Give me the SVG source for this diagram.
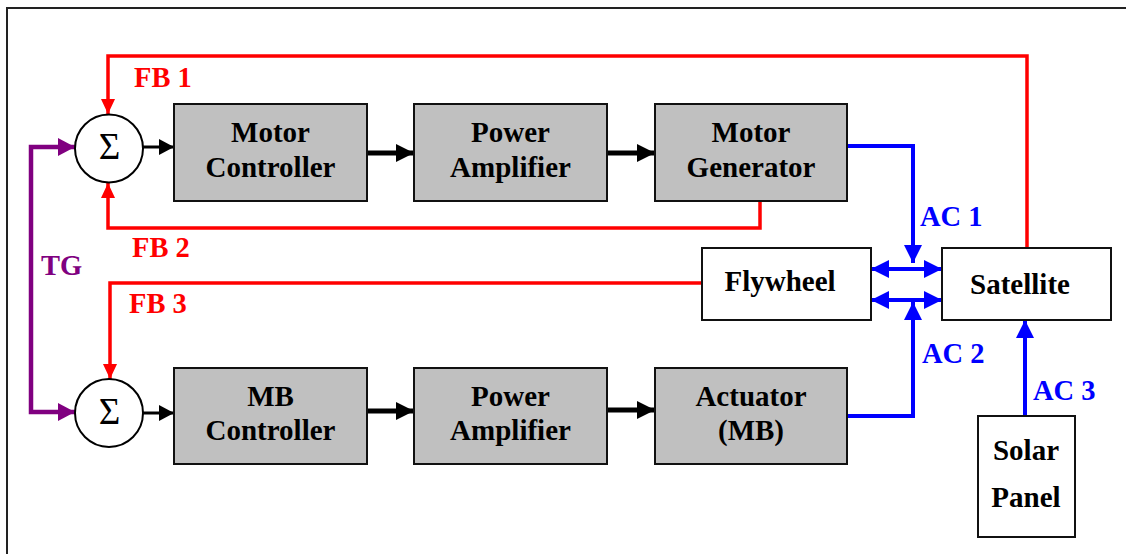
<svg xmlns="http://www.w3.org/2000/svg" width="1126" height="554" viewBox="0 0 1126 554">
<style>
.box{fill:#C0C0C0;stroke:#111;stroke-width:2}
.wbox{fill:#fff;stroke:#111;stroke-width:2}
.sum{fill:#fff;stroke:#000;stroke-width:2}
.t{font-family:"Liberation Serif",serif;font-weight:bold;font-size:29px;fill:#000;text-anchor:middle}
.lbl{font-family:"Liberation Serif",serif;font-weight:bold;font-size:28.5px}
.sig{font-family:"Liberation Serif",serif;font-size:37px;fill:#000;text-anchor:middle}
.red{fill:none;stroke:#FF0000;stroke-width:3.5}
.blue{fill:none;stroke:#0000FF;stroke-width:4}
.pur{fill:none;stroke:#800080;stroke-width:4.5}
.blk{fill:none;stroke:#000;stroke-width:3}
.blkT{fill:none;stroke:#000;stroke-width:5}
</style>
<defs>
<marker id="aR" markerUnits="userSpaceOnUse" markerWidth="16" markerHeight="14" refX="15" refY="7" orient="auto"><path d="M0,0 L15,7 L0,14 z" fill="#FF0000"/></marker>
<marker id="aB" markerUnits="userSpaceOnUse" markerWidth="19" markerHeight="18" refX="18" refY="9" orient="auto-start-reverse"><path d="M0,0 L18,9 L0,18 z" fill="#0000FF"/></marker>
<marker id="aP" markerUnits="userSpaceOnUse" markerWidth="18" markerHeight="18" refX="17" refY="9" orient="auto-start-reverse"><path d="M0,0 L17,9 L0,18 z" fill="#800080"/></marker>
<marker id="aK" markerUnits="userSpaceOnUse" markerWidth="16" markerHeight="16" refX="15" refY="8" orient="auto"><path d="M0,0 L15,8 L0,16 z" fill="#000"/></marker>
<marker id="aKT" markerUnits="userSpaceOnUse" markerWidth="19" markerHeight="18" refX="18" refY="9" orient="auto"><path d="M0,0 L18,9 L0,18 z" fill="#000"/></marker>
</defs>
<rect width="1126" height="554" fill="#fff"/>
<rect x="7" y="8" width="1140" height="560" fill="none" stroke="#222" stroke-width="2"/>

<g id="connectors">
<polyline class="red" points="1027,248 1027,56 108,56 108,114" marker-end="url(#aR)"/>
<polyline class="red" points="760,201 760,228 108,228 108,183" marker-end="url(#aR)"/>
<polyline class="red" points="702,283 110,283 110,379" marker-end="url(#aR)"/>
<path class="pur" d="M75,147 L31,147 L31,412 L75,412" marker-start="url(#aP)" marker-end="url(#aP)"/>
<line class="blk" x1="143" y1="147" x2="174" y2="147" marker-end="url(#aK)"/>
<line class="blkT" x1="367" y1="153" x2="414" y2="153" marker-end="url(#aKT)"/>
<line class="blkT" x1="607" y1="153" x2="655" y2="153" marker-end="url(#aKT)"/>
<line class="blk" x1="143" y1="413" x2="174" y2="413" marker-end="url(#aK)"/>
<line class="blkT" x1="367" y1="411" x2="414" y2="411" marker-end="url(#aKT)"/>
<line class="blkT" x1="607" y1="410" x2="655" y2="410" marker-end="url(#aKT)"/>
<polyline class="blue" points="847,146 913,146 913,263" marker-end="url(#aB)"/>
<line class="blue" x1="871" y1="269" x2="942" y2="269" marker-start="url(#aB)" marker-end="url(#aB)"/>
<line class="blue" x1="871" y1="300" x2="942" y2="300" marker-start="url(#aB)" marker-end="url(#aB)"/>
<polyline class="blue" points="847,416 913,416 913,302" marker-end="url(#aB)"/>
<line class="blue" x1="1025" y1="416" x2="1025" y2="320" marker-end="url(#aB)"/>
<text class="lbl" x="134" y="87" fill="#FF0000">FB 1</text>
<text class="lbl" x="132" y="257" fill="#FF0000">FB 2</text>
<text class="lbl" x="129" y="313" fill="#FF0000">FB 3</text>
<text class="lbl" x="41" y="275" fill="#800080">TG</text>
<text class="lbl" x="920" y="226" fill="#0000FF">AC 1</text>
<text class="lbl" x="922" y="363" fill="#0000FF">AC 2</text>
<text class="lbl" x="1033" y="400" fill="#0000FF">AC 3</text>
</g>

<g id="sum1"><circle class="sum" cx="109" cy="148.5" r="34"/><text class="sig" x="109.5" y="159">Σ</text></g>
<g id="sum2"><circle class="sum" cx="109" cy="413" r="34"/><text class="sig" x="109.5" y="424">Σ</text></g>

<g id="motor-controller"><rect class="box" x="174" y="104" width="193" height="97"/><text class="t" x="270.5" y="142">Motor</text><text class="t" x="270.5" y="177">Controller</text></g>
<g id="power-amp-1"><rect class="box" x="414" y="104" width="193" height="97"/><text class="t" x="510.5" y="142">Power</text><text class="t" x="510.5" y="177">Amplifier</text></g>
<g id="motor-generator"><rect class="box" x="655" y="104" width="192" height="97"/><text class="t" x="751" y="142">Motor</text><text class="t" x="751" y="177">Generator</text></g>
<g id="mb-controller"><rect class="box" x="174" y="368" width="193" height="96"/><text class="t" x="270.5" y="406">MB</text><text class="t" x="270.5" y="440">Controller</text></g>
<g id="power-amp-2"><rect class="box" x="414" y="368" width="193" height="96"/><text class="t" x="510.5" y="406">Power</text><text class="t" x="510.5" y="440">Amplifier</text></g>
<g id="actuator"><rect class="box" x="655" y="368" width="192" height="96"/><text class="t" x="751" y="406">Actuator</text><text class="t" x="751" y="440">(MB)</text></g>
<g id="flywheel"><rect class="wbox" x="702" y="248" width="169" height="72"/><text class="t" x="780" y="291">Flywheel</text></g>
<g id="satellite"><rect class="wbox" x="942" y="248" width="169" height="72"/><text class="t" x="1020" y="294">Satellite</text></g>
<g id="solar-panel"><rect class="wbox" x="978" y="416" width="97" height="121"/><text class="t" x="1026" y="460">Solar</text><text class="t" x="1026" y="507">Panel</text></g>
</svg>
